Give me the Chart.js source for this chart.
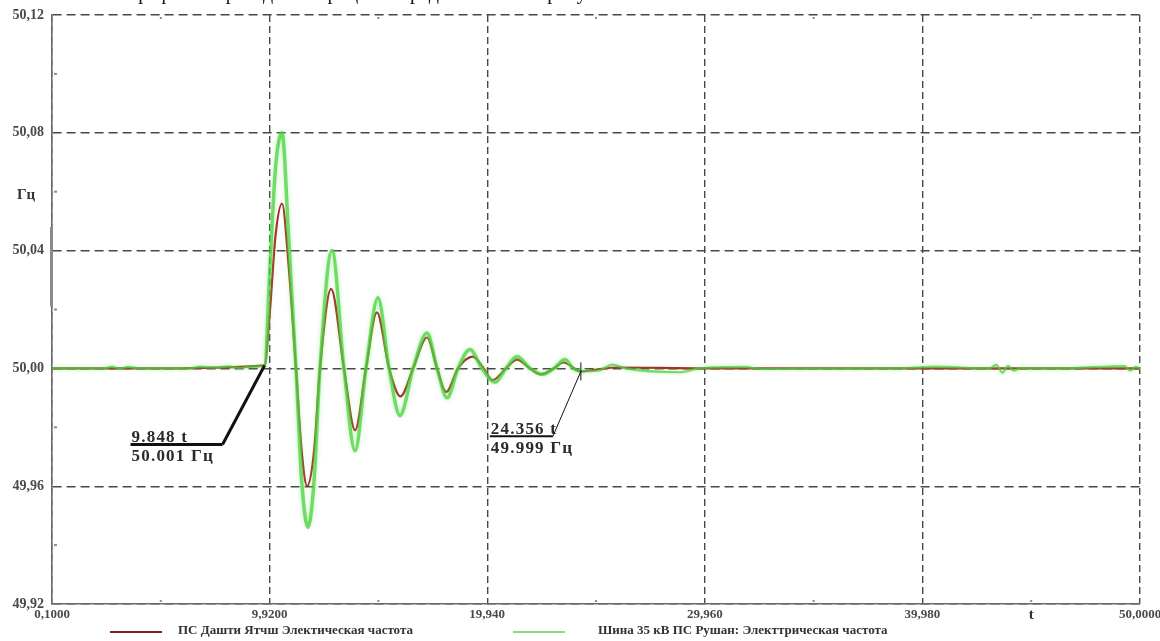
<!DOCTYPE html>
<html>
<head>
<meta charset="utf-8">
<script src="https://cdn.jsdelivr.net/npm/chart.js@4.4.1/dist/chart.umd.min.js"></script>
<style>
  html, body { margin: 0; padding: 0; background: #fff; }
  #wrap { position: relative; width: 1160px; height: 641px; overflow: hidden; }
  #c { position: absolute; left: 0; top: 0; }
  .caption { position: absolute; left: 128px; top: -19px; font: 20px "Liberation Serif", serif; color: #111; white-space: nowrap; }
  .leg-line { position: absolute; }
  .leg-text { position: absolute; font: bold 13px "Liberation Serif", serif; color: #333; white-space: nowrap; }
</style>
</head>
<body>
<div id="wrap">
  <canvas id="c" width="1160" height="641"></canvas>
  <div class="caption">Графики переходного процесса представлены на рисунке</div>
  <div id="legend"></div>
</div>
<script>
// Time axis (s) and tick labels
const xTickValues = [0.1, 10.08, 20.06, 30.04, 40.02, 50.0];
const xTickLabels = ['0,1000', '9,9200', '19,940', '29,960', '39,980', '50,0000'];
// Frequency axis (Hz) and tick labels
const yTickValues = [49.92, 49.96, 50.00, 50.04, 50.08, 50.12];
const yTickLabels = ['49,92', '49,96', '50,00', '50,04', '50,08', '50,12'];

const seriesNames = ['ПС Дашти Ятчш Электическая частота', 'Шина 35 кВ ПС Рушан: Электтрическая частота'];

// ПС Дашти Ятчш — frequency, Hz
const yatchshTime = [0.1, 5.0, 9.848, 10.1, 10.35, 10.65, 10.95, 11.29, 11.55, 11.8, 12.12, 12.39,
  12.9, 13.49, 14.0, 14.5, 15.0, 15.56, 16.08, 16.66, 17.3, 17.76, 18.18, 18.72, 19.4, 19.9, 20.3,
  20.92, 21.43, 22.02, 22.5, 23.12, 23.55, 24.356, 25.0, 26.0, 30.0, 50.0];
const yatchshFreq = [50.0, 50.0, 50.001, 50.02, 50.045, 50.056, 50.035, 50.0, 49.972, 49.96, 49.972, 50.0,
  50.027, 50.0, 49.979, 50.0, 50.019, 50.0, 49.9905, 50.0, 50.0105, 50.0, 49.992, 50.0, 50.004, 50.0, 49.996,
  50.0, 50.003, 50.0, 49.998, 50.0, 50.002, 49.999, 49.9995, 50.0003, 50.0, 50.0];

// Шина 35 кВ ПС Рушан — frequency, Hz
const rushanTime = [0.1, 2.5, 2.85, 3.2, 3.6, 4.1, 6.4, 6.9, 7.6, 8.2, 8.7, 9.3, 9.848,
  10.1, 10.35, 10.65, 10.95, 11.29, 11.55, 11.84, 12.12, 12.39, 12.94, 13.49, 14.0, 14.5, 15.05,
  15.56, 16.06, 16.66, 17.3, 17.76, 18.22, 18.72, 19.27, 19.82, 20.42, 20.92, 21.43, 22.02, 22.62,
  23.12, 23.63, 24.0, 24.356, 25.2, 25.8, 26.4, 28.9, 29.8, 31.9, 32.6, 39.0, 40.6, 43.1, 43.4,
  43.7, 43.95, 44.2, 44.5, 46.3, 49.3, 49.55, 49.8, 50.0];
const rushanFreq = [50.0, 50.0, 50.0006, 49.9999, 50.0005, 50.0, 50.0, 50.0006, 50.0003, 50.0007, 50.0002, 50.0006, 50.001,
  50.035, 50.068, 50.08, 50.045, 50.0, 49.962, 49.946, 49.962, 50.0, 50.04, 50.0, 49.972, 50.0, 50.024,
  50.0, 49.984, 50.0, 50.012, 50.0, 49.99, 50.0, 50.0064, 50.0, 49.9953, 50.0, 50.004, 50.0, 49.998,
  50.0, 50.003, 50.0, 49.999, 49.9993, 50.0013, 50.0, 49.9987, 50.0, 50.0005, 49.9998, 50.0, 50.0006, 50.0, 50.0012,
  49.9985, 50.0009, 49.9992, 50.0, 50.0, 50.0008, 49.9992, 50.0005, 50.0];

// Cursor readouts
const cursorTime = [9.848, 24.356];
const cursorFreq = [50.001, 49.999];

const toPoints = (ts, vs) => ts.map((t, i) => ({ x: t, y: vs[i] }));

const cursorStyle = [
  { dx: -42, dy: 79, len: 92, lead: 3, under: 3 },
  { dx: -28, dy: 65, len: 63, lead: 1, under: 2 }
];

const labelFont = '"Liberation Serif", "Times New Roman", serif';

const decorations = {
  id: 'decorations',
  beforeDatasetDraw(chart, args) {
    if (args.index === 1) {
      chart.ctx.save();
      chart.ctx.shadowColor = 'rgba(120, 230, 110, 0.7)';
      chart.ctx.shadowBlur = 4;
    }
  },
  afterDatasetDraw(chart, args) {
    if (args.index === 1) chart.ctx.restore();
  },
  afterDraw(chart) {
    const { ctx, chartArea: a, scales: { x, y } } = chart;
    ctx.save();
    // minor marks between grid lines
    ctx.fillStyle = '#8c8c8c';
    for (let i = 0; i < xTickValues.length - 1; i++) {
      const px = x.getPixelForValue((xTickValues[i] + xTickValues[i + 1]) / 2);
      ctx.fillRect(px - 1, a.bottom - 4, 2, 2);
      ctx.fillRect(px - 1, a.top + 2, 2, 2);
    }
    for (let i = 0; i < yTickValues.length - 1; i++) {
      const py = y.getPixelForValue((yTickValues[i] + yTickValues[i + 1]) / 2);
      ctx.fillRect(a.left + 2, py - 1, 3, 2);
    }
    // scroll marker on the value axis
    ctx.fillStyle = '#8a8a8a';
    const yb0 = y.getPixelForValue(50.048), yb1 = y.getPixelForValue(50.021);
    ctx.fillRect(a.left - 2, yb0, 3, yb1 - yb0);

    // axis titles
    ctx.fillStyle = '#333';
    ctx.font = 'bold 15px ' + labelFont;
    ctx.textAlign = 'center';
    ctx.textBaseline = 'middle';
    ctx.fillText('Гц', a.left - 26, y.getPixelForValue(50.06) + 3);
    ctx.fillText('t', x.getPixelForValue((xTickValues[4] + xTickValues[5]) / 2), a.bottom + 11);

    // cursor readouts
    cursorTime.forEach((t, i) => {
      const s = cursorStyle[i];
      const px = x.getPixelForValue(t), py = y.getPixelForValue(cursorFreq[i]);
      const ex = px + s.dx, ey = py + s.dy;
      ctx.strokeStyle = '#111';
      ctx.lineWidth = s.lead;
      ctx.beginPath(); ctx.moveTo(px, py); ctx.lineTo(ex, ey); ctx.stroke();
      ctx.lineWidth = s.under;
      ctx.beginPath(); ctx.moveTo(ex, ey); ctx.lineTo(ex - s.len, ey); ctx.stroke();
      if (i === 1) {
        ctx.lineWidth = 1;
        ctx.beginPath(); ctx.moveTo(px, py - 9); ctx.lineTo(px, py + 9); ctx.stroke();
      }
      ctx.fillStyle = '#2a2a2a';
      ctx.font = 'bold 17px ' + labelFont;
      ctx.letterSpacing = '1.2px';
      ctx.textAlign = 'left';
      ctx.textBaseline = 'alphabetic';
      ctx.fillText(t.toFixed(3) + ' t', ex - s.len + 1, ey - 2);
      ctx.fillText(cursorFreq[i].toFixed(3) + ' Гц', ex - s.len + 1, ey + 17);
      ctx.letterSpacing = '0px';
    });
    ctx.restore();
  }
};

const inTransient = c => c.p0.parsed.x >= 9.8 && c.p1.parsed.x <= 24.4;

const chart = new Chart(document.getElementById('c'), {
  type: 'line',
  data: {
    datasets: [
      {
        label: seriesNames[0],
        data: toPoints(yatchshTime, yatchshFreq),
        borderColor: '#a52a20',
        borderWidth: 2.2,
        pointRadius: 0,
        cubicInterpolationMode: 'monotone',
        order: 2
      },
      {
        label: seriesNames[1],
        data: toPoints(rushanTime, rushanFreq),
        borderColor: 'rgba(72, 208, 60, 0.72)',
        borderWidth: 3.5,
        segment: { borderWidth: c => inTransient(c) ? 3.5 : 2.2 },
        pointRadius: 0,
        cubicInterpolationMode: 'monotone',
        order: 1
      }
    ]
  },
  options: {
    responsive: false,
    animation: false,
    devicePixelRatio: 1,
    layout: { padding: { left: 0, right: 20, top: 15, bottom: 0 } },
    plugins: { legend: { display: false }, tooltip: { enabled: false } },
    scales: {
      x: {
        type: 'linear',
        min: 0.1,
        max: 50.0,
        afterBuildTicks: s => { s.ticks = xTickValues.map(v => ({ value: v })); },
        afterFit: s => { s.height = 37; s.paddingLeft = 0; s.paddingRight = 0; },
        ticks: {
          autoSkip: false, maxRotation: 0, padding: 3,
          color: '#4a4a4a',
          font: { family: labelFont, size: 13, weight: 'bold' },
          callback: (v, i) => xTickLabels[i]
        },
        grid: { color: '#484848', lineWidth: 1.4, drawTicks: false },
        border: { display: true, color: '#6a6a6a', width: 1.6, dash: [7, 4] }
      },
      y: {
        min: 49.92,
        max: 50.12,
        afterBuildTicks: s => { s.ticks = yTickValues.map(v => ({ value: v })); },
        afterFit: s => { s.width = 52; s.paddingTop = 0; s.paddingBottom = 0; },
        ticks: {
          padding: 8,
          color: '#4a4a4a',
          font: { family: labelFont, size: 14, weight: 'bold' },
          callback: (v, i) => yTickLabels[i]
        },
        grid: { color: '#484848', lineWidth: 1.4, drawTicks: false },
        border: { display: true, color: '#6a6a6a', width: 1.6, dash: [9, 5] }
      }
    }
  },
  plugins: [decorations]
});

// legend below the axis
const legendLayout = [
  { lineX: 110, lineW: 52, textX: 178, width: 2, color: '#7a2222' },
  { lineX: 513, lineW: 52, textX: 598, width: 1.5, color: '#8fd88a' }
];
const legendEl = document.getElementById('legend');
chart.data.datasets.forEach((ds, i) => {
  const L = legendLayout[i];
  const line = document.createElement('div');
  line.className = 'leg-line';
  line.style.cssText = `left:${L.lineX}px;top:${632 - L.width / 2}px;width:${L.lineW}px;height:${L.width}px;background:${L.color}`;
  const txt = document.createElement('div');
  txt.className = 'leg-text';
  txt.style.cssText = `left:${L.textX}px;top:622px`;
  txt.textContent = ds.label;
  legendEl.appendChild(line);
  legendEl.appendChild(txt);
});
</script>
</body>
</html>
